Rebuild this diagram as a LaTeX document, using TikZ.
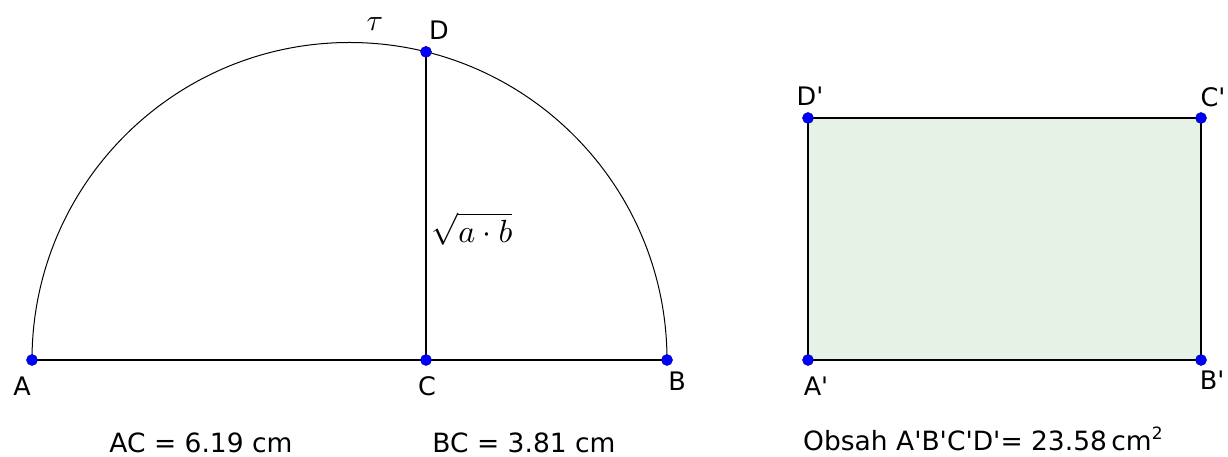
\documentclass[tikz,border=0pt]{standalone}
\usepackage{fontspec}
\setmainfont{DejaVu Sans}[Ligatures=TeXOff]
\definecolor{ptblue}{RGB}{0,0,255}
\definecolor{rectfill}{RGB}{229,242,229}
\tikzset{
  pt/.style={circle, fill=ptblue, draw=ptblue!60!black, line width=0.5pt, inner sep=0pt, minimum size=11pt},
  lbl/.style={inner sep=0pt, font=\fontsize{25.5}{30}\selectfont},
  meas/.style={inner sep=0pt, anchor=base, font=\fontsize{26.5}{30}\selectfont},
  mathlbl/.style={inner sep=0pt, scale=3.0},
  seg/.style={line width=1.2pt, black},
}
\begin{document}
\begin{tikzpicture}[x=1pt,y=1pt]
\useasboundingbox (0,0) rectangle (1228,457);
% points
\coordinate (A) at (32,97);
\coordinate (C) at (426,97);
\coordinate (B) at (667,97);
\coordinate (D) at (426,405.1);
\coordinate (A1) at (808,97);
\coordinate (B1) at (1201,97);
\coordinate (C1) at (1201,339);
\coordinate (D1) at (808,339);
% rectangle
\filldraw[fill=rectfill, draw=black, line width=1.2pt] (A1) -- (B1) -- (C1) -- (D1) -- cycle;
% semicircle
\draw[line width=1pt] (A) arc[start angle=180, end angle=0, radius=317.5];
\draw[seg] (A) -- (B);
\draw[seg] (C) -- (D);
% dots
\node[pt] (pA) at (A) {};
\node[pt] (pC) at (C) {};
\node[pt] (pB) at (B) {};
\node[pt] (pD) at (D) {};
\node[pt] (pA1) at (A1) {};
\node[pt] (pB1) at (B1) {};
\node[pt] (pC1) at (C1) {};
\node[pt] (pD1) at (D1) {};
% labels
\node[lbl] (lA) at (22,71) {A};
\node[lbl] (lC) at (427,71) {C};
\node[lbl] (lB) at (677,76) {B};
\node[lbl] (lD) at (439,427) {D};
\node[lbl] (lA1) at (816,71) {A'};
\node[lbl] (lB1) at (1212,77) {B'};
\node[lbl] (lC1) at (1213,360) {C'};
\node[lbl] (lD1) at (810,361) {D'};
\node[mathlbl] (tau) at (375,433) {$\tau$};
\node[mathlbl, scale=1.07, anchor=west] (sq) at (431,228) {$\sqrt{a\cdot b}$};
% measurements
\node[meas] (mAC) at (201,4) {AC = 6.19 cm};
\node[meas] (mBC) at (524,4) {BC = 3.81 cm};
\node[meas, anchor=base west] (mArea) at (803,6) {Obsah A'B'C'D'= 23.58\,cm\raisebox{11pt}{\fontsize{17}{20}\selectfont 2}};
\end{tikzpicture}
\end{document}
